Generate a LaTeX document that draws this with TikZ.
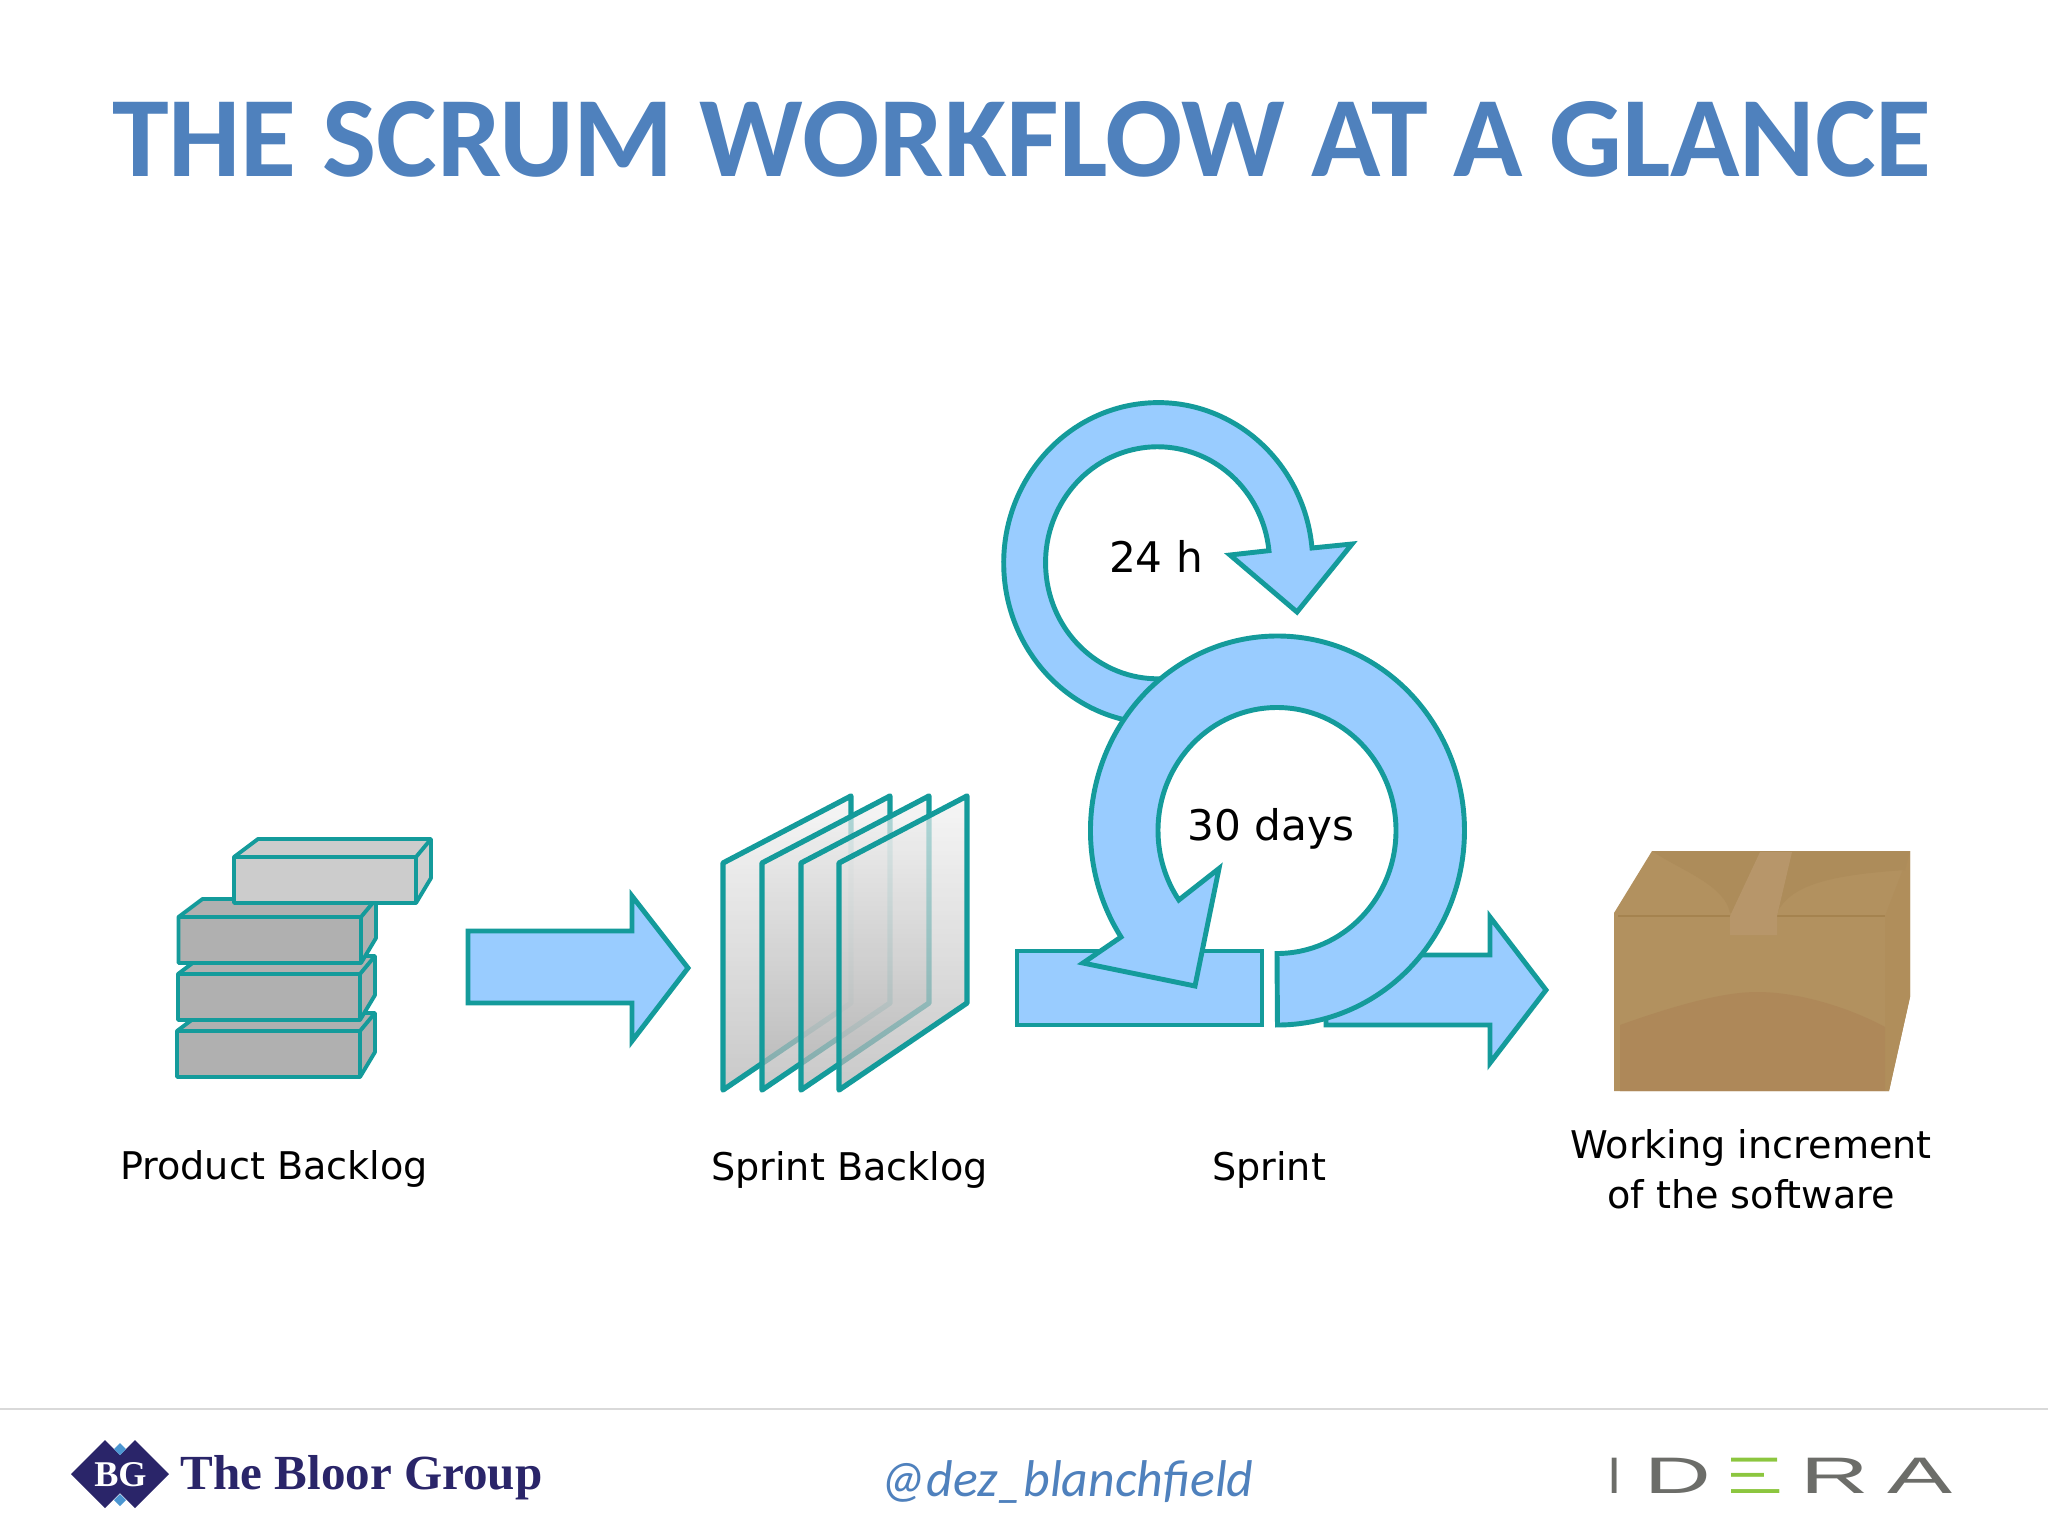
\documentclass[tikz,border=0pt]{standalone}
\usepackage{fontspec}
\setmainfont{DejaVu Sans}
\newfontfamily\titlefont{Carlito}
\newfontfamily\bloorfont{Liberation Serif}
\newfontfamily\iderafont{Liberation Sans}
\definecolor{teal1}{HTML}{149B9B}
\definecolor{sky1}{HTML}{99CCFF}
\definecolor{titleblue}{HTML}{4F81BD}
\definecolor{bloor}{HTML}{2A2569}
\definecolor{bloorlight}{HTML}{4C97D2}
\definecolor{ideragrey}{HTML}{6C6D69}
\definecolor{ideragreen}{HTML}{8CC63F}
\definecolor{card}{HTML}{B2915F}
\definecolor{cardtop}{HTML}{AD8C5A}
\definecolor{cardlow}{HTML}{AE8859}
\definecolor{cardside}{HTML}{B08E5B}
\definecolor{tape}{HTML}{B7966A}
\definecolor{cardseam}{HTML}{A5834F}

\tikzset{
  flow/.style={draw=teal1,fill=sky1,line width=1.4pt,miter limit=20},
  brick/.style={draw=teal1,line width=1.1pt,line join=round},
  sheet/.style={draw=teal1,line width=1.5pt,line join=round,top color=gray!10,bottom color=gray!60,
    fill opacity=.7},
  label/.style={anchor=base,inner sep=0pt,font=\fontsize{10.85}{13}\selectfont,text=black},
  biglabel/.style={label,font=\fontsize{12}{14}\selectfont},
  idera/.style={anchor=base,inner sep=0pt,text=ideragrey,font=\iderafont\fontsize{14.6}{16}\selectfont},
}

% brick: front left x, front top y, width, height, fill
\newcommand{\brick}[5]{
  \path[brick,fill=#5] (#1,#2) -- ++(24,-18) -- ++(#3-9,0) -- ++(0,39) -- ++(-15,25) -- ++(-#3,0) -- cycle;
  \draw[brick] (#1,#2) -- ++(#3,0) -- ++(15,-18);
  \draw[brick] (#1+#3,#2) -- ++(0,#4);
}
% sheet: top left x
\newcommand{\glass}[1]{
  \path[sheet] (#1,863) -- (#1+128,796) -- (#1+128,1003) -- (#1,1090) -- cycle;
}

\begin{document}
\begin{tikzpicture}[x=0.01cm,y=-0.01cm]
  \useasboundingbox (0,0) rectangle (2048,1536);
  \fill[white] (0,0) rectangle (2048,1536);

  % title
  \node[anchor=base,inner sep=0pt,text=titleblue,font=\titlefont\bfseries\fontsize{32.55}{36}\selectfont] (title) at (1022,176) {THE SCRUM WORKFLOW AT A GLANCE};

  % product backlog
  \brick{177}{1031}{183}{46}{gray!62}
  \brick{178}{974}{182}{47}{gray!62}
  \brick{178.5}{917}{182.5}{46}{gray!62}
  \brick{234}{857}{182}{47}{gray!40}

  % first arrow
  \draw[flow] (468,931) -- (632,931) -- (632,896) -- (688,968) -- (632,1041) -- (632,1003) -- (468,1003) -- cycle;

  % sprint backlog
  \glass{723}
  \glass{762}
  \glass{801}
  \glass{839}

  % sprint, bars go under the big ring
  \draw[flow] (1017,951) rectangle (1262,1025);
  \draw[flow] (1326,1025) -- (1326,955) -- (1490,955) -- (1490,917) -- (1546,990) -- (1490,1063) -- (1490,1025) -- cycle;

  % 24 h arrow
  \draw[flow] (1177,677) arc[start angle=80,end angle=354,x radius=112,y radius=116]
    -- (1230,555) -- (1297,612) -- (1352,544) -- (1312,548)
    arc[start angle=354.6,end angle=95,x radius=154.5,y radius=160.5] -- cycle;

  % 30 days arrow
  \draw[flow] (1277,953.5) arc[start angle=90,end angle=-214.4,x radius=119,y radius=123]
    -- (1219,868.5) -- (1195,986) -- (1083,963) -- (1121,937)
    arc[start angle=-213.2,end angle=90,x radius=187,y radius=194.5] -- cycle;

  % box
  \fill[card] (1614,913) -- (1652,851) -- (1910,851) -- (1910,997) -- (1889,1091) -- (1614,1091) -- cycle;
  \fill[cardside] (1885,916) -- (1910,851) -- (1910,997) -- (1889,1091) -- (1885,1091) -- cycle;
  \fill[cardtop] (1652,851) -- (1910,851) -- (1905,870) .. controls (1830,875) and (1790,885) .. (1777,913)
    -- (1730,913) .. controls (1725,885) and (1680,870) .. (1652,851) -- cycle;
  \fill[cardlow] (1620,1025) .. controls (1690,1000) and (1730,992) .. (1757,992)
    .. controls (1800,992) and (1850,1008) .. (1885,1027) -- (1885,1091) -- (1620,1091) -- cycle;
  \draw[cardseam,line width=.5pt] (1618,916) -- (1885,916);
  \fill[tape] (1760,852) -- (1792,852) -- (1777,916) -- (1777,935) -- (1730,935) -- (1730,916) -- cycle;

  % labels
  \node[label] (pb) at (274,1179) {Product Backlog};
  \node[label] (sb) at (849.5,1180) {Sprint Backlog};
  \node[label] (sp) at (1269,1180) {Sprint};
  \node[label] (wi) at (1751,1158) {Working increment};
  \node[label] (ws) at (1751,1208) {of the software};
  \node[biglabel] (h24) at (1156,572) {24 h};
  \node[biglabel] (d30) at (1271,840) {30 days};

  % footer
  \draw[gray!30,line width=.6pt] (0,1409) -- (2048,1409);
  \fill[bloor] (71,1474) -- (105,1440) -- (120,1455) -- (135,1440) -- (169,1474) -- (135,1508) -- (120,1493) -- (105,1508) -- cycle;
  \fill[bloorlight] (120,1443) -- (126,1449) -- (120,1455) -- (114,1449) -- cycle;
  \fill[bloorlight] (120,1494) -- (126,1500) -- (120,1506) -- (114,1500) -- cycle;
  \node[anchor=base,inner sep=0pt,text=white,font=\bloorfont\bfseries\fontsize{10.3}{12}\selectfont] (bg) at (120.5,1486) {BG};
  \node[anchor=base west,inner sep=0pt,text=bloor,font=\bloorfont\bfseries\fontsize{13.95}{15}\selectfont] (bloorname) at (180,1489) {The Bloor Group};
  \node[anchor=base,inner sep=0pt,text=titleblue,font=\titlefont\itshape\fontsize{14.7}{16}\selectfont] (handle) at (1067,1496) {@dez\_blanchfield};

  % idera logo, E keeps only its three bars
  \node[idera] (i1) at (1614.5,1493) {I};
  \node[idera] (i2) at (1678,1493) {\scalebox{1.8}[1]{D}};
  \begin{scope}
    \clip (1731,1450) rectangle (1779,1468) (1731,1468) rectangle (1763,1483) (1731,1483) rectangle (1779,1500);
    \node[idera,anchor=base west,text=ideragreen] (i3) at (1712,1493) {\scalebox{2.1}[1]{E}};
  \end{scope}
  \node[idera] (i4) at (1835,1493) {\scalebox{1.85}[1]{R}};
  \node[idera] (i5) at (1920,1493) {\scalebox{1.9}[1]{A}};
\end{tikzpicture}
\end{document}
